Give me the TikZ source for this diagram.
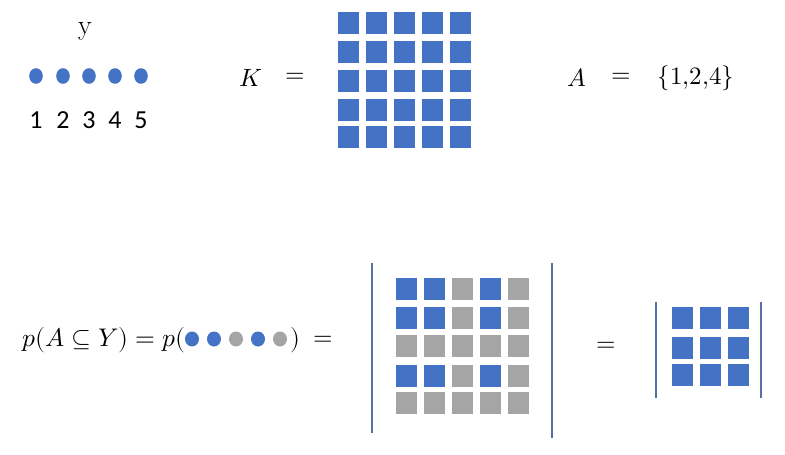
\documentclass[tikz,border=0pt]{standalone}
\usepackage{amsmath}
\usepackage{fontspec}
\usepackage{unicode-math}
\newfontfamily\digfont{Carlito}
\usepackage{tikz}
\definecolor{kblue}{HTML}{4472C4}
\definecolor{kgray}{HTML}{A5A5A5}
\definecolor{kbar}{HTML}{5272A8}
\tikzset{%
  lbl/.style={inner sep=0pt, font=\fontsize{25}{29}\selectfont},
  biglbl/.style={inner sep=0pt, font=\fontsize{25.5}{30}\selectfont},
  dig/.style={inner sep=0pt, font=\digfont\fontsize{26}{30}\selectfont},
  detbar/.style={draw=kbar, line width=2.6pt},
}

\begin{document}
\begin{tikzpicture}[x=1pt,y=-1pt]
\useasboundingbox (0,0) rectangle (785,455);
% ground set Y
\node[lbl, font=\fontsize{28}{32}\selectfont] (ylab) at (85,31) {y};
\foreach \x [count=\i] in {36,63,89,115,141}{
  \fill [kblue] (\x,76) ellipse (6.8 and 7.8);
  \node[dig] (n\i) at (\x,120) {\i};
}
% kernel K
\node[lbl] (K) at (251,78) {$K$};
\node[lbl] (eqK) at (295,78) {$=$};
\foreach \y in {12,41,70,99,126}
  \foreach \c in {0,...,4}
    \fill [kblue] (338+28*\c,\y) rectangle ++(21,22);
% subset A
\node[lbl] (A) at (577,78) {$A$};
\node[lbl] (eqA) at (621,78) {$=$};
\node[lbl] (setA) at (696,78) {$\{1{,}2{,}4\}$};
% p(A in Y)
\node[biglbl, anchor=east] (pA) at (186,340) {$p(A\subseteq Y)=p($};
\foreach \x/\cl in {192/kblue,214/kblue,236/kgray,258/kblue,280/kgray}
  \fill [\cl] (\x,339) ellipse (7 and 7.5);
\node[biglbl] (rpar) at (295,340) {$)$};
\node[lbl] (eq1) at (323,341) {$=$};
% determinant of K restricted
\draw [detbar] (372,263) -- (372,433);
\draw [detbar] (552,263) -- (552,438);
\foreach \y/\p in {278/1,307/1,335/0,365/1,392/0}
  \foreach \c/\q in {0/1,1/1,2/0,3/1,4/0}{
    \ifnum\p\q=11 \def\cl{kblue}\else\def\cl{kgray}\fi
    \fill [\cl] (396+28*\c,\y) rectangle ++(21,22);
  }
\node[lbl] (eq2) at (606,347) {$=$};
% K_A
\draw [detbar] (656,302) -- (656,398);
\draw [detbar] (761,302) -- (761,398);
\foreach \y in {307,337,364}
  \foreach \c in {0,1,2}
    \fill [kblue] (672+28*\c,\y) rectangle ++(21,22);
\end{tikzpicture}
\end{document}
